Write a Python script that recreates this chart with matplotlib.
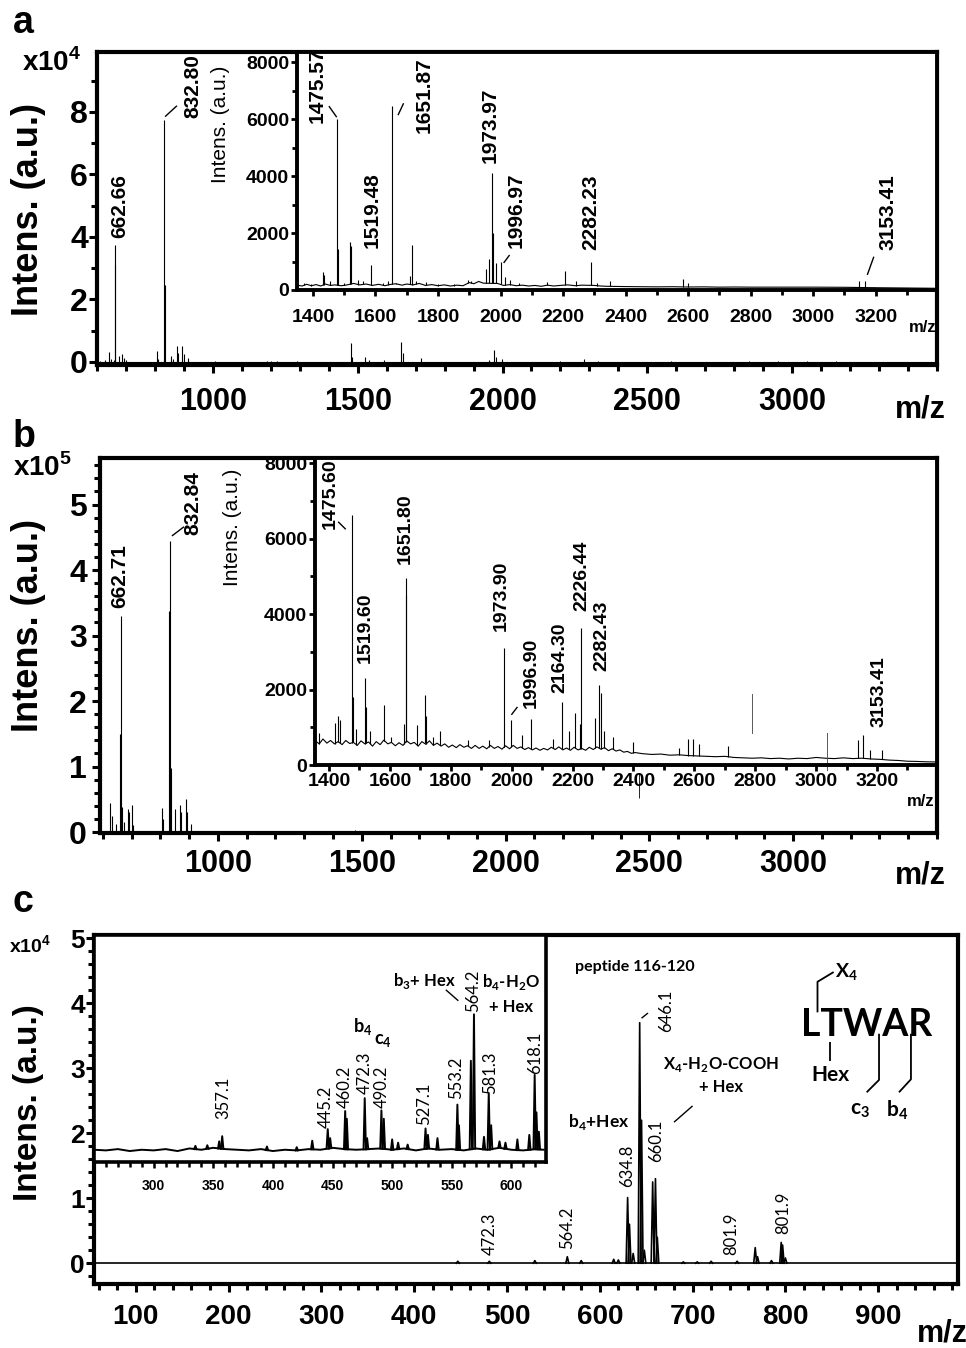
import numpy as np
import matplotlib
matplotlib.use("Agg")
import matplotlib.pyplot as plt
from matplotlib import font_manager
from matplotlib.ticker import FixedLocator, MultipleLocator

# ---------------- data ----------------
# panel a, full spectrum (intensity x10^4)
a_mz = [612, 628, 641, 650, 658, 660.5, 662.7, 676, 685, 692, 700, 806, 810, 830, 832.8, 836,
        857, 862, 875, 879, 895, 899, 915, 1007, 1186, 1200, 1220, 1289, 1478, 1482, 1524, 1540,
        1590, 1650, 1655, 1719, 1955, 1972, 1978, 1997, 2200, 2282, 2330, 2580, 2850, 2950, 3050, 3150]
a_int = [0.04, 0.07, 0.33, 0.1, 0.06, 3.1, 3.75, 0.2, 0.25, 0.12, 0.06, 0.35, 0.1, 0.1, 7.75, 2.45,
         0.2, 0.1, 0.5, 0.3, 0.5, 0.25, 0.12, 0.03, 0.03, 0.02, 0.03, 0.03, 0.62, 0.15, 0.15, 0.05,
         0.06, 0.65, 0.3, 0.12, 0.05, 0.38, 0.15, 0.08, 0.03, 0.08, 0.03, 0.02, 0.02, 0.02, 0.02, 0.02]

# panel a, inset (a.u.)
ai_mz = [1370, 1395, 1431, 1434, 1455, 1475.6, 1480, 1500, 1519.5, 1523, 1545, 1560, 1585, 1625,
         1640, 1651.9, 1665, 1710, 1716, 1730, 1760, 1800, 1850, 1896, 1905, 1952, 1962, 1972,
         1976, 1985, 2000, 2015, 2030, 2060, 2150, 2206, 2240, 2289, 2310, 2350, 2585, 2600, 2720,
         2760, 3040, 3070, 3148, 3166, 3196]
ai_int = [250, 220, 640, 525, 300, 6000, 1450, 250, 1700, 1550, 350, 300, 870, 230,
          300, 6450, 260, 500, 1580, 330, 280, 220, 200, 350, 320, 740, 1100, 4100,
          2000, 950, 1000, 450, 350, 250, 280, 680, 300, 990, 250, 320, 390, 250, 120,
          120, 100, 120, 330, 330, 120]
ai_base_mz = [1349, 1365, 1380, 1395, 1410, 1425, 1440, 1455, 1470, 1490, 1505, 1530, 1550, 1570,
              1590, 1610, 1630, 1645, 1665, 1685, 1700, 1720, 1740, 1760, 1780, 1800, 1820, 1840,
              1860, 1880, 1900, 1915, 1930, 1945, 1990, 2010, 2030, 2050, 2070, 2090, 2110, 2130,
              2150, 2170, 2190, 2215, 2240, 2260, 2300, 2320, 2340, 2370, 2400, 2450, 2500, 2550,
              2600, 2650, 2700, 2750, 2800, 2900, 3000, 3100, 3200, 3300, 3396]
ai_base = [170, 140, 200, 150, 190, 140, 210, 160, 180, 150, 170, 230, 180, 210,
           160, 200, 150, 190, 220, 170, 210, 180, 230, 160, 190, 150, 180, 140,
           170, 150, 260, 220, 300, 240, 230, 160, 190, 150, 170, 140, 160, 130,
           170, 140, 160, 180, 150, 170, 160, 140, 130, 125, 120, 115, 110, 115,
           105, 110, 100, 105, 100, 100, 100, 95, 80, 70, 60]

# panel b, full spectrum (intensity x10^5)
b_mz = [625, 630, 645, 660, 662.7, 665, 675, 688, 692, 700, 705, 805, 808, 830, 832.8, 836,
        851, 868, 871, 889, 893, 905, 1000, 1478, 1652, 1975]
b_int = [0.45, 0.25, 0.12, 1.5, 3.3, 0.38, 0.15, 0.35, 0.3, 0.42, 0.1, 0.36, 0.2, 3.37, 4.45, 0.97,
         0.35, 0.42, 0.3, 0.5, 0.3, 0.12, 0.02, 0.03, 0.02, 0.02]

# panel b, inset (a.u.)
bi_mz = [1367, 1420, 1428, 1437, 1475.6, 1479, 1490, 1519.6, 1523, 1535, 1582, 1605, 1647, 1651.8,
         1654, 1690, 1714, 1719, 1742, 1765, 1857, 1925, 1973.9, 1976, 1999, 2033, 2065, 2135,
         2164.3, 2187, 2207, 2223, 2229, 2273, 2288, 2293, 2304, 2332, 2398, 2549, 2579, 2594,
         2614, 2709, 3138, 3153, 3176, 3215]
bi_int = [850, 1110, 1290, 1200, 6620, 1790, 950, 2300, 1550, 900, 1600, 750, 1100, 4960,
          4500, 1050, 1850, 1300, 750, 900, 650, 650, 3100, 550, 1200, 800, 1230, 700,
          1680, 900, 1390, 1100, 3620, 1250, 2110, 1900, 900, 750, 620, 450, 700, 680,
          550, 500, 650, 800, 400, 400]
bi_base_mz = [1355, 1368, 1380, 1393, 1405, 1418, 1430, 1443, 1455, 1468,
              1480, 1493, 1505, 1518, 1530, 1543, 1555, 1568, 1580, 1593,
              1605, 1618, 1630, 1643, 1655, 1668, 1680, 1693, 1705, 1718,
              1730, 1743, 1755, 1768, 1780, 1793, 1805, 1818, 1830, 1843,
              1855, 1868, 1880, 1893, 1905, 1918, 1930, 1943, 1955, 1968,
              1980, 1993, 2005, 2018, 2030, 2043, 2055, 2068, 2080, 2093,
              2105, 2118, 2130, 2143, 2155, 2168, 2180, 2193, 2205, 2218,
              2230, 2243, 2255, 2268, 2280, 2293, 2305, 2318, 2330, 2343,
              2355, 2368, 2380, 2393, 2405,
              2430, 2460, 2490, 2520, 2550, 2580, 2610, 2640, 2670, 2700, 2730,
              2760, 2790, 2820, 2850, 2880, 2910, 2940, 2970, 3000, 3030, 3060,
              3090, 3120, 3150, 3180, 3210, 3240, 3270, 3300, 3330, 3360, 3397]
bi_base = [640, 560, 690, 580, 650, 560, 620, 540, 650, 570,
           600, 520, 640, 560, 610, 500, 620, 540, 660, 560,
           600, 510, 590, 520, 640, 560, 600, 500, 620, 550,
           640, 520, 580, 500, 560, 470, 530, 460, 540, 470,
           510, 440, 520, 440, 500, 430, 520, 440, 490, 420,
           510, 430, 520, 440, 480, 410, 460, 400, 450, 390,
           440, 400, 470, 410, 480, 400, 450, 390, 470, 400,
           440, 390, 470, 410, 480, 420, 460, 380, 430, 370,
           400, 340, 360, 310, 330,
           300, 280, 290, 260, 270, 250, 240, 230, 220, 230, 200,
           190, 180, 190, 170, 180, 160, 180, 170, 200, 180, 170,
           190, 170, 180, 160, 150, 130, 120, 100, 95, 85, 80]
# stray vertical traces
bi_art_mz = [2790, 3036]
bi_art_lo = [850, -120]
bi_art_hi = [1870, 850]
b_art_mz = [2465]
b_art_lo = [0.52]
b_art_hi = [0.9]

# panel c, MS/MS spectrum (intensity x10^4)
c_mz = [447, 481, 530, 565, 580, 615, 620, 630, 632, 636, 643, 645, 648, 657, 660, 662,
        690, 705, 720, 748, 767.5, 770, 785, 795.5, 797, 800]
c_int = [0.03, 0.03, 0.04, 0.1, 0.04, 0.06, 0.05, 1.01, 0.6, 0.15, 3.7, 2.2, 0.2, 1.25, 1.3, 0.4,
         0.02, 0.02, 0.03, 0.03, 0.24, 0.1, 0.04, 0.32, 0.28, 0.08]

# panel c, zoomed inset (same units)
ci_mz = [335, 345, 355, 357.5, 395, 420, 433, 446, 448, 460.6, 462, 477, 479, 491, 493, 500, 505,
         513, 528, 530, 538, 554.7, 556, 566, 568.6, 577, 581, 583, 590, 595, 605, 615, 619.5,
         621, 623]
ci_int = [1.78, 1.79, 1.85, 1.93, 1.77, 1.76, 1.86, 2.04, 1.9, 2.32, 2.2, 2.52, 1.9, 2.33, 2.2,
          1.88, 1.83, 1.8, 2.05, 1.95, 1.9, 2.42, 2.1, 3.1, 3.82, 1.92, 2.6, 2.1, 1.85, 1.83,
          1.88, 1.95, 2.88, 2.3, 2.0]
ci_base_mz = [250, 260, 270, 280, 290, 300, 310, 320, 330, 340, 350, 360, 370, 380, 390, 400, 410,
              420, 430, 440, 450, 460, 470, 480, 490, 500, 510, 520, 530, 540, 550, 560, 570, 580,
              590, 600, 610, 620, 627]
ci_base = [1.72, 1.71, 1.73, 1.70, 1.72, 1.71, 1.73, 1.70, 1.74, 1.72, 1.75, 1.73, 1.72, 1.71,
           1.73, 1.70, 1.72, 1.71, 1.73, 1.72, 1.75, 1.73, 1.72, 1.73, 1.74, 1.72, 1.74, 1.71,
           1.74, 1.72, 1.73, 1.71, 1.74, 1.72, 1.75, 1.72, 1.71, 1.73, 1.72]

# ---------------- fonts ----------------
names = {f.name for f in font_manager.fontManager.ttflist}
NARROW = 'Liberation Sans Narrow' if 'Liberation Sans Narrow' in names else 'Liberation Sans'
PK_SIZE = 17 if NARROW == 'Liberation Sans Narrow' else 15
CAL = 'Lato'

plt.rcParams['font.family'] = ['Liberation Sans', 'DejaVu Sans']
plt.rcParams['font.weight'] = 'bold'
plt.rcParams['mathtext.fontset'] = 'custom'
plt.rcParams['mathtext.rm'] = 'Liberation Sans'
plt.rcParams['mathtext.bf'] = 'Lato:bold'

W, H = 966, 1348
fig = plt.figure(figsize=(W / 100, H / 100), dpi=100)


def rect(l, t, r, b):
    return [l / W, 1 - b / H, (r - l) / W, (b - t) / H]


def fx(x):
    return x / W


def fy(y):
    return 1 - y / H


def sticks(ax, mz, inten, base_mz, base_val, lw=0.8):
    ax.plot(base_mz, base_val, color='k', lw=lw)
    bottom = np.interp(mz, base_mz, base_val)
    ax.vlines(mz, bottom, inten, color='k', lw=lw)


def tri_peaks(ax, mz, inten, base_mz, base_val, hw, lw=1.2):
    ax.plot(base_mz, base_val, color='k', lw=lw)
    bottom = np.interp(mz, base_mz, base_val)
    for p, h, b in zip(mz, inten, bottom):
        ax.plot([p - hw, p, p + hw], [b, h, b], color='k', lw=lw)


def style(ax, spine_lw, tick_w, tick_len, size_x, size_y, pad_x, pad_y):
    for s in ax.spines.values():
        s.set_linewidth(spine_lw)
    ax.tick_params(which='both', direction='out', width=tick_w, top=False, right=False)
    ax.tick_params(which='major', length=tick_len)
    ax.tick_params(which='minor', length=tick_len * 0.85)
    ax.tick_params(axis='x', labelsize=size_x, pad=pad_x)
    ax.tick_params(axis='y', labelsize=size_y, pad=pad_y)


def plabel(ax, txt, x, y, size=PK_SIZE, family=NARROW, weight='bold'):
    ax.text(x, y, txt, rotation=90, ha='center', va='bottom', fontsize=size,
            family=family, weight=weight, clip_on=False)


def line(ax, xs, ys, lw=1.0):
    ax.plot(xs, ys, color='k', lw=lw, clip_on=False, solid_capstyle='butt')


# ================= panel a =================
axA = fig.add_axes(rect(97, 52, 937, 365))
sticks(axA, a_mz, a_int, [600, 3500], [0, 0])
axA.set_xlim(600, 3500)
axA.set_ylim(-0.1, 9.92)
axA.xaxis.set_major_locator(FixedLocator([1000, 1500, 2000, 2500, 3000]))
axA.xaxis.set_minor_locator(MultipleLocator(100))
axA.yaxis.set_major_locator(FixedLocator([0, 2, 4, 6, 8]))
axA.yaxis.set_minor_locator(FixedLocator([1, 3, 5, 7, 9]))
style(axA, 3.0, 2.2, 5.5, 22, 23, 10, 1)
plabel(axA, '662.66', 680, 3.95)
plabel(axA, '832.80', 931, 7.8)
line(axA, [835, 876], [7.85, 8.2])

axAi = fig.add_axes(rect(297, 52, 937, 290))
sticks(axAi, ai_mz, ai_int, ai_base_mz, ai_base)
axAi.set_xlim(1349, 3396)
axAi.set_ylim(0, 8360)
axAi.xaxis.set_major_locator(FixedLocator(list(range(1400, 3201, 200))))
axAi.xaxis.set_minor_locator(MultipleLocator(100))
axAi.yaxis.set_major_locator(FixedLocator([0, 2000, 4000, 6000, 8000]))
axAi.yaxis.set_minor_locator(FixedLocator([1000, 3000, 5000, 7000]))
style(axAi, 2.8, 2.0, 4.5, 14, 14, 9, 1)
plabel(axAi, '1475.57', 1413, 5860)
line(axAi, [1476, 1451], [6070, 6460])
plabel(axAi, '1651.87', 1756, 5510)
line(axAi, [1672, 1690], [6140, 6560])
plabel(axAi, '1519.48', 1588, 1470)
plabel(axAi, '1973.97', 1968, 4450)
plabel(axAi, '1996.97', 2050, 1470)
line(axAi, [2010, 2029], [950, 1230])
plabel(axAi, '2282.23', 2290, 1400)
plabel(axAi, '3153.41', 3240, 1400)
line(axAi, [3173, 3194], [530, 1170])

fig.text(fx(13), fy(33), 'a', fontsize=27, va='baseline')
fig.text(fx(22), fy(71), 'x10$^4$', fontsize=20, va='baseline')
fig.text(fx(29), fy(210), 'Intens. (a.u.)', fontsize=26, rotation=90, ha='center', va='center')
fig.text(fx(221), fy(124), 'Intens. (a.u.)', fontsize=15, weight='normal', rotation=90,
         ha='center', va='center')
fig.text(fx(946), fy(417), 'm/z', fontsize=22, ha='right', va='baseline')
fig.text(fx(936), fy(328), 'm/z', fontsize=12, ha='right', va='center')

# ================= panel b =================
axB = fig.add_axes(rect(100, 458, 937, 833))
sticks(axB, b_mz, b_int, [590, 3500], [0, 0])
axB.vlines(b_art_mz, b_art_lo, b_art_hi, color='k', lw=0.6)
axB.set_xlim(590, 3500)
axB.set_ylim(-0.015, 5.71)
axB.xaxis.set_major_locator(FixedLocator([1000, 1500, 2000, 2500, 3000]))
axB.xaxis.set_minor_locator(MultipleLocator(100))
axB.yaxis.set_major_locator(MultipleLocator(1))
axB.yaxis.set_minor_locator(MultipleLocator(0.2))
style(axB, 3.0, 2.2, 5.5, 22, 23, 6, 4)
plabel(axB, '662.71', 660, 3.42)
plabel(axB, '832.84', 913, 4.53)
line(axB, [840, 882], [4.52, 4.66])

axBi = fig.add_axes(rect(315, 458, 937, 765))
sticks(axBi, bi_mz, bi_int, bi_base_mz, bi_base)
for xa, lo, hi in zip(bi_art_mz, bi_art_lo, bi_art_hi):
    axBi.plot([xa, xa], [lo, hi], color='0.35', lw=0.7, clip_on=False)
axBi.set_xlim(1354, 3397)
axBi.set_ylim(0, 8140)
axBi.xaxis.set_major_locator(FixedLocator(list(range(1400, 3201, 200))))
axBi.xaxis.set_minor_locator(MultipleLocator(100))
axBi.yaxis.set_major_locator(FixedLocator([0, 2000, 4000, 6000, 8000]))
axBi.yaxis.set_minor_locator(FixedLocator([1000, 3000, 5000, 7000]))
style(axBi, 2.8, 2.0, 4.5, 14, 14, 1, 1)
bs = PK_SIZE - 1
plabel(axBi, '1475.60', 1405, 6270, bs)
line(axBi, [1430, 1455], [6450, 6250])
plabel(axBi, '1519.60', 1520, 2710, bs)
plabel(axBi, '1651.80', 1651, 5330, bs)
plabel(axBi, '1973.90', 1965, 3560, bs)
plabel(axBi, '1996.90', 2065, 1510, bs)
line(axBi, [1999, 2019], [1330, 1540])
plabel(axBi, '2164.30', 2157, 1910, bs)
plabel(axBi, '2226.44', 2229, 4090, bs)
plabel(axBi, '2282.43', 2295, 2490, bs)
plabel(axBi, '3153.41', 3208, 1020, bs)

fig.text(fx(13), fy(447), 'b', fontsize=27, va='baseline')
fig.text(fx(13), fy(476), 'x10$^5$', fontsize=20, va='baseline')
fig.text(fx(29), fy(626), 'Intens. (a.u.)', fontsize=26, rotation=90, ha='center', va='center')
fig.text(fx(233), fy(527), 'Intens. (a.u.)', fontsize=15, weight='normal', rotation=90,
         ha='center', va='center')
fig.text(fx(946), fy(883), 'm/z', fontsize=22, ha='right', va='baseline')
fig.text(fx(934), fy(801), 'm/z', fontsize=12, ha='right', va='center')

# ================= panel c =================
axC = fig.add_axes(rect(94, 935, 958, 1284))
tri_peaks(axC, c_mz, c_int, [55, 986], [0, 0], 1.6, lw=1.2)
axC.set_xlim(55, 986)
axC.set_ylim(-0.32, 5.05)
axC.xaxis.set_major_locator(MultipleLocator(100))
axC.xaxis.set_minor_locator(MultipleLocator(20))
axC.yaxis.set_major_locator(MultipleLocator(1))
axC.yaxis.set_minor_locator(MultipleLocator(0.2))
style(axC, 3.0, 2.2, 5.5, 20, 19, 9, 1)

cl = dict(size=12, family=CAL, weight='normal')
plabel(axC, '472.3', 481, 0.12, **cl)
plabel(axC, '564.2', 565, 0.22, **cl)
plabel(axC, '634.8', 629, 1.18, **cl)
plabel(axC, '660.1', 661, 1.56, **cl)
plabel(axC, '646.1', 671, 3.56, **cl)
line(axC, [645, 652], [3.77, 3.85])
plabel(axC, '801.9', 742, 0.12, **cl)
plabel(axC, '801.9', 798, 0.45, **cl)

ck = dict(family=CAL, weight='bold', ha='center', va='center')
axC.text(599, 2.17, r'b$_\mathbf{4}$+Hex', fontsize=12.5, **ck)
axC.text(731, 3.05, r'X$_\mathbf{4}$-H$_\mathbf{2}$O-COOH', fontsize=12, **ck)
axC.text(731, 2.71, '+ Hex', fontsize=12, **ck)
line(axC, [680, 700], [2.17, 2.42])
axC.text(573, 4.55, 'peptide 116-120', fontsize=11.5, family=CAL, weight='bold',
         ha='left', va='center')
axC.text(888, 3.67, 'LTWAR', fontsize=27, **ck)
axC.text(866, 4.47, r'X$_\mathbf{4}$', fontsize=14, **ck)
line(axC, [834.6, 834.6, 852], [3.86, 4.33, 4.48], lw=1.3)
axC.text(849, 2.9, 'Hex', fontsize=15, **ck)
line(axC, [848.6, 848.6], [3.41, 3.11], lw=1.3)
axC.text(880, 2.35, r'c$_\mathbf{3}$', fontsize=15, **ck)
line(axC, [900.9, 900.9, 887.6], [3.53, 2.82, 2.63], lw=1.3)
axC.text(920.6, 2.35, r'b$_\mathbf{4}$', fontsize=15, **ck)
line(axC, [935.3, 935.3, 922.4], [3.53, 2.83, 2.63], lw=1.3)

axCi = fig.add_axes(rect(94, 935, 546, 1162))
tri_peaks(axCi, ci_mz, ci_int, ci_base_mz, ci_base, 1.0, lw=1.4)
axCi.set_xlim(250, 629)
axCi.set_ylim(1.53, 5.05)
axCi.xaxis.set_major_locator(FixedLocator([300, 350, 400, 450, 500, 550, 600]))
axCi.xaxis.set_minor_locator(MultipleLocator(10))
style(axCi, 2.6, 1.8, 4.0, 10, 10, 8, 1)
axCi.tick_params(axis='y', which='both', left=False, labelleft=False)

for txt, x, y in [('357.1', 358, 2.2), ('445.2', 444, 2.05), ('460.2', 460, 2.37),
                  ('472.3', 477, 2.58), ('490.2', 491, 2.37), ('527.1', 527, 2.1),
                  ('553.2', 554, 2.5), ('564.2', 568, 3.86), ('581.3', 582, 2.58),
                  ('618.1', 620, 2.9)]:
    plabel(axCi, txt, x, y, **cl)
axCi.text(475, 3.63, r'b$_\mathbf{4}$', fontsize=13, **ck)
axCi.text(492, 3.42, r'c$_\mathbf{4}$', fontsize=13, **ck)
axCi.text(527, 4.33, r'b$_\mathbf{3}$+ Hex', fontsize=12, **ck)
line(axCi, [545, 555.5], [4.2, 4.03])
axCi.text(600, 4.32, r'b$_\mathbf{4}$-H$_\mathbf{2}$O', fontsize=12, **ck)
axCi.text(600, 3.94, '+ Hex', fontsize=12, **ck)

fig.text(fx(13), fy(912), 'c', fontsize=27, va='baseline')
fig.text(fx(9), fy(953), 'x10$^4$', fontsize=14, va='baseline')
fig.text(fx(29), fy(1103), 'Intens. (a.u.)', fontsize=24, rotation=90, ha='center', va='center')
fig.text(fx(917), fy(1318), 'm/z', fontsize=22, ha='left', va='top')

fig.savefig('out.png', dpi=100)
